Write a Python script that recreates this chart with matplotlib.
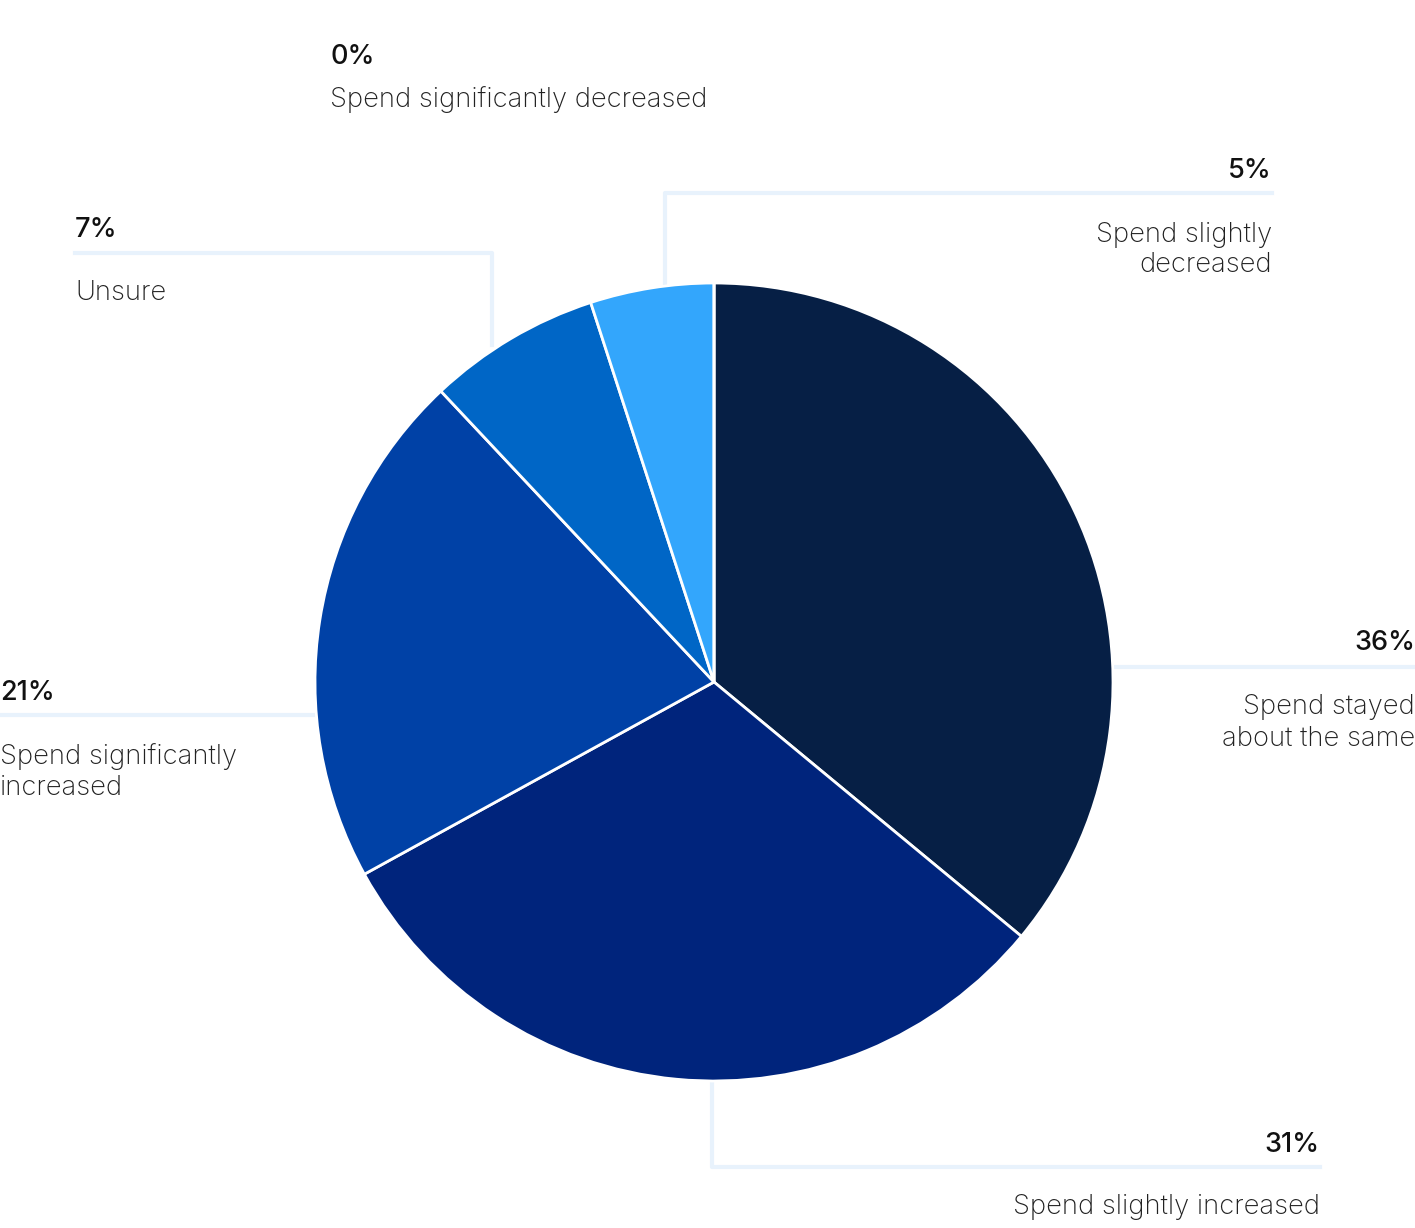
import matplotlib.pyplot as plt

labels = ['Spend stayed\nabout the same', 'Spend slightly increased',
          'Spend significantly\nincreased', 'Unsure',
          'Spend slightly\ndecreased', 'Spend significantly decreased']
values = [36, 31, 21, 7, 5, 0]
colors = ['#061f45', '#00247c', '#0041a6', '#0066c6', '#33a6fc', '#0a1a3a']

W, H = 1415, 1228
fig = plt.figure(figsize=(W / 100, H / 100), dpi=100)
ax = fig.add_axes([0, 0, 1, 1])

cx, cy, r = 714, 682, 399
# y axis is flipped below, so start at -90 and go counterclockwise in data
ax.pie(values, colors=colors, startangle=-90, counterclock=True,
       center=(cx, cy), radius=r, frame=True,
       wedgeprops=dict(edgecolor='white', linewidth=2))
ax.set_xlim(0, W)
ax.set_ylim(H, 0)
ax.set_aspect('equal')
ax.axis('off')

line_c = '#e8f2fc'
lw = 3
# leader lines
ax.plot([1113, 1415], [667, 667], color=line_c, lw=lw, zorder=0)
ax.plot([712, 712, 1320], [1081, 1167, 1167], color=line_c, lw=lw, zorder=0)
ax.plot([0, 314], [715, 715], color=line_c, lw=lw, zorder=0)
ax.plot([492, 492, 75], [345, 253, 253], color=line_c, lw=lw, zorder=0)
ax.plot([665, 665, 1272], [286, 193, 193], color=line_c, lw=lw, zorder=0)

fam = ['Inter', 'DejaVu Sans']
pct_kw = dict(fontsize=19.5, family=fam, color='#111111', fontweight='medium', va='center')
lab_kw = dict(fontsize=19.7, family=fam, color='#222222', fontweight='light', va='center',
              linespacing=1.25)

# (pct x, pct y, label x, label y, ha)
pos = [
    (1415, 643, 1415, 723, 'right'),
    (1320, 1145, 1320, 1207, 'right'),
    (0, 693, 0, 772, 'left'),
    (75, 230, 75, 293, 'left'),
    (1272, 171, 1272, 250, 'right'),
    (330, 57, 330, 100, 'left'),
]
for v, lab, (px, py, lx, ly, ha) in zip(values, labels, pos):
    ax.text(px, py, f'{v}%', ha=ha, **pct_kw)
    ax.text(lx, ly, lab, ha=ha, multialignment=ha, **lab_kw)

fig.savefig('out.png', dpi=100, facecolor='white')
